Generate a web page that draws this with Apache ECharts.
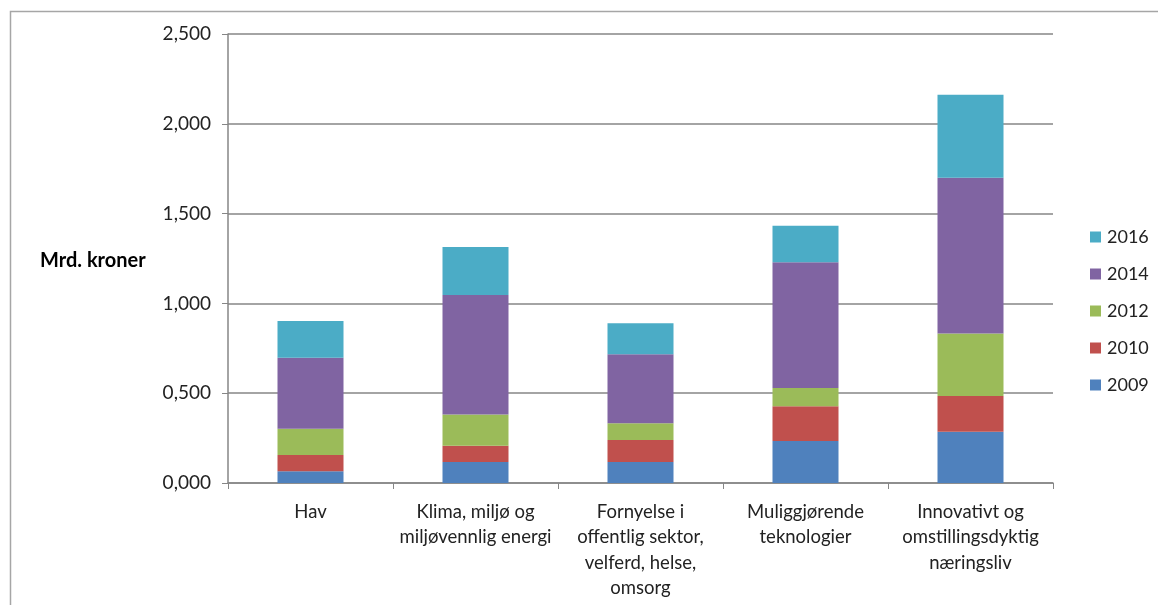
<!DOCTYPE html>
<html style="height: 100%">
<head>
    <meta charset="utf-8">
    <title>Mrd. kroner</title>
</head>
<body style="height: 100%; margin: 0; background: #fff">
<div id="container" style="width: 1158px; height: 605px"></div>
<script type="text/javascript" src="https://cdn.jsdelivr.net/npm/echarts@6/dist/echarts.min.js"></script>
<script type="text/javascript">
    // kategorier og verdier (mill. kroner)
    var categories = ['Hav', 'Klima, miljø og\nmiljøvennlig energi', 'Fornyelse i\noffentlig sektor,\nvelferd, helse,\nomsorg', 'Muliggjørende\nteknologier', 'Innovativt og\nomstillingsdyktig\nnæringsliv'];
    var years = ['2009', '2010', '2012', '2014', '2016'];
    var v2009 = [65, 117, 117, 234, 286];
    var v2010 = [91, 91, 122, 193, 198];
    var v2012 = [146, 174, 93, 102, 349];
    var v2014 = [396, 665, 385, 700, 867];
    var v2016 = [204, 267, 172, 204, 462];
    var yTicks = [0, 500, 1000, 1500, 2000, 2500];
    var colors = ['#4F81BD', '#C0504D', '#9BBB59', '#8064A2', '#4BACC6'];

    var dom = document.getElementById("container");
    var myChart = echarts.init(dom);
    var values = [v2009, v2010, v2012, v2014, v2016];
    var font = 'Lato, "Liberation Sans", sans-serif';

    var series = [];
    for (var i = 0; i < years.length; i++) {
        series.push({
            name: years[i],
            type: 'bar',
            stack: 'sum',
            barWidth: '40%',
            itemStyle: {color: colors[i]},
            data: values[i]
        });
    }

    var option = {
        animation: false,
        textStyle: {fontFamily: font},
        graphic: [{
            type: 'rect',
            shape: {x: 10.5, y: 11.5, width: 1150, height: 600},
            style: {fill: 'none', stroke: '#a6a6a6', lineWidth: 1.5}
        }, {
            type: 'text',
            left: 40,
            top: 251,
            style: {text: 'Mrd. kroner', font: 'bold 20px ' + font, fill: '#000'}
        }],
        legend: {
            orient: 'vertical',
            left: 1085,
            top: 223,
            itemWidth: 11,
            itemHeight: 11,
            itemGap: 19,
            icon: 'rect',
            data: years.slice().reverse(),
            textStyle: {fontSize: 18, color: '#222', fontFamily: font, padding: [0, 0, 0, 1]}
        },
        grid: {left: 228, right: 105, top: 34, bottom: 122},
        xAxis: {
            type: 'category',
            data: categories,
            axisLine: {lineStyle: {color: '#868686', width: 1.5}},
            axisTick: {show: true, length: 6, lineStyle: {color: '#868686'}},
            axisLabel: {fontSize: 18.5, color: '#222', lineHeight: 25.5, margin: 16, interval: 0, fontFamily: font}
        },
        yAxis: {
            type: 'value',
            min: 0,
            max: 2500,
            interval: 500,
            axisLine: {show: true, lineStyle: {color: '#868686', width: 1.5}},
            axisTick: {show: true, length: 6, lineStyle: {color: '#868686'}},
            splitLine: {lineStyle: {color: '#868686', width: 1.5}},
            axisLabel: {
                fontSize: 19, color: '#222', margin: 17, fontFamily: font,
                formatter: function (v) {
                    return (v / 1000).toFixed(3).replace('.', ',');
                }
            }
        },
        series: series
    };
    myChart.setOption(option, true);
</script>
</body>
</html>
